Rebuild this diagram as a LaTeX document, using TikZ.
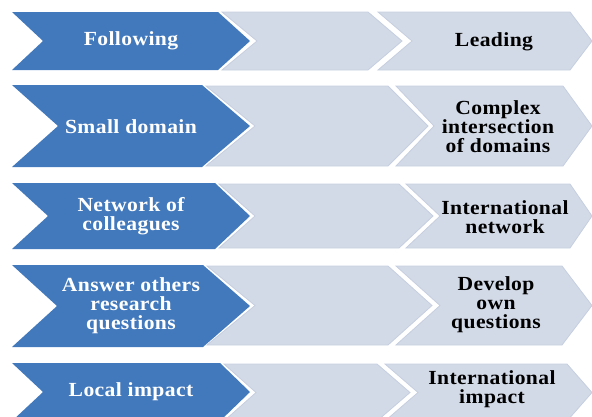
\documentclass[tikz,border=0pt]{standalone}
\usepackage{fontspec}
\setmainfont{Liberation Serif}[LetterSpace=2,FakeStretch=1.08]
\definecolor{chevblue}{HTML}{4279BD}
\definecolor{chevlight}{HTML}{D3DAE7}
\definecolor{chevedge}{HTML}{C6CFE0}
\tikzset{
  bluechev/.style={fill=chevblue},
  lightchev/.style={fill=chevlight, draw=chevedge, line width=0.8pt},
  bluetext/.style={text=white, font=\fontsize{20}{19}\selectfont\bfseries, align=center, inner sep=0pt},
  darktext/.style={text=black, font=\fontsize{20}{19}\selectfont\bfseries, align=center, inner sep=0pt}
}
% #1 style, #2 left, #3 notch, #4 top-right, #5 tip, #6 top, #7 bottom
\newcommand\chevpath[7]{%
  \path[#1] (#2,#6) -- (#4,#6) -- (#5,{(#6+#7)/2}) -- (#4,#7) -- (#2,#7) -- (#3,{(#6+#7)/2}) -- cycle;}
\begin{document}
\begin{tikzpicture}[x=1pt,y=-1pt]
\useasboundingbox (0,0) rectangle (592,416);
\clip (0,0) rectangle (592,416);
% Row 1
\chevpath{lightchev}{378}{412}{570}{592}{12}{70}
\chevpath{lightchev}{222}{257}{368}{402}{12}{70}
\chevpath{bluechev}{12}{43}{218}{250}{12}{70}
% Row 2
\chevpath{lightchev}{396}{434}{563}{592}{86}{166}
\chevpath{lightchev}{206}{255}{388}{428}{86}{166}
\chevpath{bluechev}{12}{58}{202}{250}{85}{167}
% Row 3
\chevpath{lightchev}{406}{440}{570}{592}{184}{248}
\chevpath{lightchev}{219}{255}{399}{433}{184}{248}
\chevpath{bluechev}{12}{48}{215}{250}{183}{249}
% Row 4
\chevpath{lightchev}{396}{440}{562}{592}{266}{345}
\chevpath{lightchev}{207}{255}{388}{432}{266}{345}
\chevpath{bluechev}{12}{57}{203}{250}{265}{347}
% Row 5
\chevpath{lightchev}{385}{418}{567}{592}{364}{421}
\chevpath{lightchev}{224}{256}{377}{410}{364}{421}
\chevpath{bluechev}{12}{43}{220}{250}{363}{421}
% Texts
\node[bluetext] (l1) at (131,41) {Following};
\node[bluetext] (l2) at (131,127) {Small domain};
\node[bluetext] (l3) at (131,216) {Network of\\colleagues};
\node[bluetext] (l4) at (131,306) {Answer others\\research\\questions};
\node[bluetext] (l5) at (131,392) {Local impact};
\node[darktext] (r1) at (494,42) {Leading};
\node[darktext] (r2) at (498,127) {Complex\\intersection\\of domains};
\node[darktext] (r3) at (505,217) {International\\network};
\node[darktext] (r4) at (496,305) {Develop\\own\\questions};
\node[darktext] (r5) at (492,389) {International\\impact};
\end{tikzpicture}
\end{document}
